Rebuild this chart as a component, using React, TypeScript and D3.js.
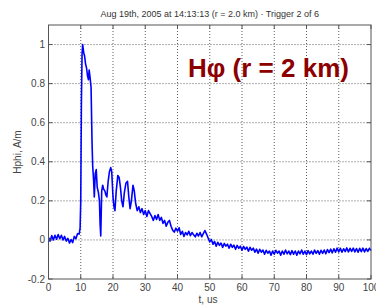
import React from "react";
import * as d3 from "d3";

const TITLE = "Aug 19th, 2005 at 14:13:13  (r = 2.0 km)  \u00B7  Trigger 2 of 6";
const ANNOTATION = "H\u03C6 (r = 2 km)";
const X_LABEL = "t, us";
const Y_LABEL = "Hphi, A/m";
const X_TICKS = [0, 10, 20, 30, 40, 50, 60, 70, 80, 90, 100];
const Y_TICKS = [-0.2, 0, 0.2, 0.4, 0.6, 0.8, 1];

// [time (us), Hphi (A/m)]
const WAVEFORM: [number, number][] = [
  [0, 0.012], [0.5, -0.006], [1, 0.022], [1.5, 0.0], [2, 0.024], [2.5, 0.004], [3, 0.028], [3.5, 0.006],
  [4, 0.024], [4.5, 0.0], [5, 0.018], [5.5, -0.006], [6, 0.008], [6.5, -0.016], [7, 0.002], [7.5, -0.014],
  [8, 0.018], [8.5, 0.006], [9, 0.032], [9.5, 0.03], [9.8, 0.06], [10.0, 0.2], [10.2, 0.7], [10.4, 0.95],
  [10.6, 1.0], [10.9, 0.96], [11.2, 0.94], [11.5, 0.9], [11.8, 0.88], [12.1, 0.84], [12.4, 0.82], [12.6, 0.87],
  [12.9, 0.83], [13.2, 0.78], [13.5, 0.5], [13.7, 0.38], [14.0, 0.3], [14.2, 0.22], [14.5, 0.34], [14.8, 0.36],
  [15.1, 0.27], [15.5, 0.24], [15.8, 0.2], [16.0, 0.08], [16.2, 0.02], [16.5, 0.25], [16.8, 0.28], [17.1, 0.26],
  [17.5, 0.25], [17.8, 0.23], [18.1, 0.22], [18.5, 0.3], [18.9, 0.35], [19.3, 0.37], [19.6, 0.35], [20.0, 0.22],
  [20.3, 0.17], [20.6, 0.15], [21.0, 0.25], [21.5, 0.33], [21.9, 0.32], [22.3, 0.27], [22.7, 0.2], [23.1, 0.17],
  [23.5, 0.24], [24.0, 0.29], [24.5, 0.3], [24.9, 0.22], [25.3, 0.16], [25.7, 0.2], [26.2, 0.28], [26.6, 0.25],
  [27.0, 0.19], [27.5, 0.15], [28.0, 0.17], [28.5, 0.14], [29.0, 0.16], [29.5, 0.13], [30.0, 0.15], [30.5, 0.12],
  [31.0, 0.15], [31.5, 0.135], [32.0, 0.12], [32.5, 0.1], [33, 0.125], [33.5, 0.105], [34, 0.13], [34.5, 0.1],
  [35, 0.115], [35.5, 0.085], [36, 0.1], [36.5, 0.07], [37, 0.09], [37.5, 0.1], [38, 0.07], [38.5, 0.05],
  [39, 0.04], [39.5, 0.06], [40, 0.045], [40.5, 0.062], [41, 0.028], [41.5, 0.044], [42, 0.018], [42.5, 0.038],
  [43, 0.026], [43.5, 0.044], [44, 0.022], [44.5, 0.038], [45, 0.026], [45.5, 0.016], [46, 0.034], [46.5, 0.02],
  [47, 0.038], [47.5, 0.016], [48, 0.032], [48.5, 0.048], [49, 0.03], [49.5, 0.01], [50, -0.01], [50.5, 0.002],
  [51, -0.022], [51.5, -0.008], [52, -0.032], [52.5, -0.012], [53, -0.028], [53.5, -0.016], [54, -0.038], [54.5, -0.018],
  [55, -0.032], [55.5, -0.022], [56, -0.042], [56.5, -0.022], [57, -0.038], [57.5, -0.027], [58, -0.048], [58.5, -0.028],
  [59, -0.043], [59.5, -0.032], [60, -0.053], [60.5, -0.033], [61, -0.048], [61.5, -0.037], [62, -0.058], [62.5, -0.038],
  [63, -0.053], [63.5, -0.042], [64, -0.063], [64.5, -0.047], [65, -0.068], [65.5, -0.048], [66, -0.063], [66.5, -0.052],
  [67, -0.073], [67.5, -0.053], [68, -0.068], [68.5, -0.057], [69, -0.078], [69.5, -0.057], [70, -0.073], [70.5, -0.053],
  [71, -0.068], [71.5, -0.057], [72, -0.078], [72.5, -0.057], [73, -0.073], [73.5, -0.052], [74, -0.071], [74.5, -0.057],
  [75, -0.075], [75.5, -0.055], [76, -0.073], [76.5, -0.057], [77, -0.078], [77.5, -0.057], [78, -0.071], [78.5, -0.052],
  [79, -0.073], [79.5, -0.057], [80, -0.075], [80.5, -0.055], [81, -0.071], [81.5, -0.057], [82, -0.073], [82.5, -0.052],
  [83, -0.069], [83.5, -0.055], [84, -0.073], [84.5, -0.053], [85, -0.069], [85.5, -0.052], [86, -0.071], [86.5, -0.049],
  [87, -0.065], [87.5, -0.047], [88, -0.066], [88.5, -0.045], [89, -0.063], [89.5, -0.042], [90, -0.061], [90.5, -0.043],
  [91, -0.063], [91.5, -0.045], [92, -0.06], [92.5, -0.041], [93, -0.061], [93.5, -0.043], [94, -0.059], [94.5, -0.042],
  [95, -0.061], [95.5, -0.044], [96, -0.063], [96.5, -0.043], [97, -0.06], [97.5, -0.042], [98, -0.061], [98.5, -0.044],
  [99, -0.059], [99.5, -0.043], [100, -0.055],
];

const W = 376;
const H = 307;
const PLOT = { left: 48.5, right: 371, top: 25, bottom: 279 };

export default function App() {
  const x = d3.scaleLinear().domain([0, 100]).range([PLOT.left, PLOT.right]);
  const y = d3.scaleLinear().domain([-0.2, 1.1]).range([PLOT.bottom, PLOT.top]);
  const line = d3
    .line<[number, number]>()
    .x((d) => x(d[0]))
    .y((d) => y(d[1]));
  const font = "Arial, 'Liberation Sans', sans-serif";
  const axisColor = "#555";
  const gridColor = "#444";
  const tickLen = 4;

  return (
    <svg
      width={W}
      height={H}
      style={{ position: "absolute", left: 0, top: 0, background: "#fff" }}
      fontFamily={font}
    >
      <rect x={0} y={0} width={W} height={H} fill="#fff" />
      {/* grid */}
      {X_TICKS.slice(1, -1).map((t) => (
        <line key={"gx" + t} x1={x(t)} x2={x(t)} y1={PLOT.top} y2={PLOT.bottom}
          stroke={gridColor} strokeWidth={1} strokeDasharray="1,2" opacity={0.85} />
      ))}
      {Y_TICKS.slice(1).map((t) => (
        <line key={"gy" + t} x1={PLOT.left} x2={PLOT.right} y1={y(t)} y2={y(t)}
          stroke={gridColor} strokeWidth={1} strokeDasharray="1,2" opacity={0.85} />
      ))}
      {/* waveform */}
      <path d={line(WAVEFORM) || ""} fill="none" stroke="#0000ff" strokeWidth={1.6} strokeLinejoin="round" />
      {/* box */}
      <rect x={PLOT.left} y={PLOT.top} width={PLOT.right - PLOT.left} height={PLOT.bottom - PLOT.top}
        fill="none" stroke={axisColor} strokeWidth={1} />
      {/* ticks */}
      {X_TICKS.map((t) => (
        <g key={"tx" + t}>
          <line x1={x(t)} x2={x(t)} y1={PLOT.bottom} y2={PLOT.bottom - tickLen} stroke={axisColor} />
          <line x1={x(t)} x2={x(t)} y1={PLOT.top} y2={PLOT.top + tickLen} stroke={axisColor} />
          <text x={x(t)} y={291} textAnchor="middle" fontSize={10} fill="#444">{t}</text>
        </g>
      ))}
      {Y_TICKS.map((t) => (
        <g key={"ty" + t}>
          <line x1={PLOT.left} x2={PLOT.left + tickLen} y1={y(t)} y2={y(t)} stroke={axisColor} />
          <line x1={PLOT.right} x2={PLOT.right - tickLen} y1={y(t)} y2={y(t)} stroke={axisColor} />
          <text x={45} y={y(t) + 3.5} textAnchor="end" fontSize={10} fill="#444">{t}</text>
        </g>
      ))}
      {/* labels */}
      <text x={(PLOT.left + PLOT.right) / 2} y={17} textAnchor="middle" fontSize={9} fill="#333">{TITLE}</text>
      <text x={208} y={303} textAnchor="middle" fontSize={10} fill="#444">{X_LABEL}</text>
      <text transform={`translate(21,${(PLOT.top + PLOT.bottom) / 2}) rotate(-90)`} textAnchor="middle"
        fontSize={10} fill="#444">{Y_LABEL}</text>
      <text x={188} y={77} fontSize={26} fontWeight="bold" fill="#8c0000">{ANNOTATION}</text>
    </svg>
  );
}
